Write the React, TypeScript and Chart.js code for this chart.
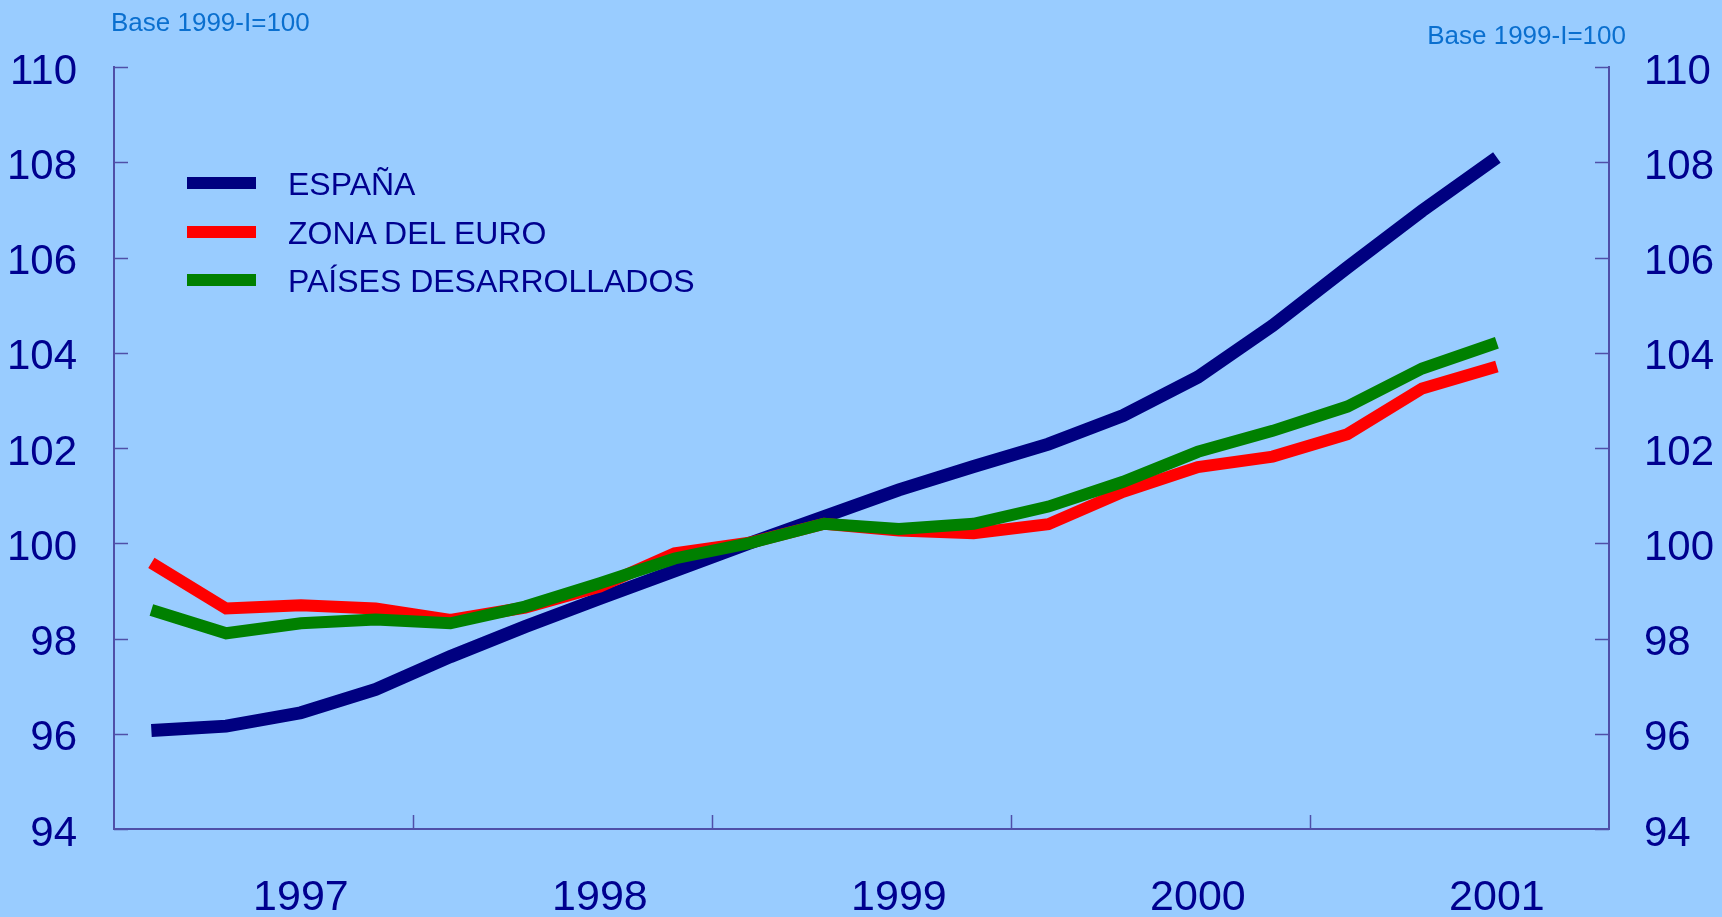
import React, { useEffect, useRef } from 'react';
import { Chart, registerables } from 'chart.js';

Chart.register(...registerables);

// ---- data ----
const years = ['1997', '1998', '1999', '2000', '2001'];
const quarters = ['I', 'II', 'III', 'IV'];
const quarterLabels = years.flatMap((y) => quarters.map((q) => `${y}-${q}`));

const espana = [96.07, 96.16, 96.44, 96.93, 97.62, 98.25, 98.84, 99.42, 100.0, 100.56, 101.12, 101.61, 102.08, 102.68, 103.49, 104.57, 105.79, 106.98, 108.1];
const zonaEuro = [99.59, 98.63, 98.7, 98.63, 98.39, 98.65, 99.09, 99.79, 100.01, 100.41, 100.27, 100.21, 100.4, 101.08, 101.6, 101.82, 102.29, 103.25, 103.71];
const paises = [98.6, 98.11, 98.32, 98.4, 98.32, 98.67, 99.16, 99.68, 100.0, 100.41, 100.3, 100.41, 100.77, 101.29, 101.92, 102.36, 102.87, 103.67, 104.21];

const seriesNames = ['ESPAÑA', 'ZONA DEL EURO', 'PAÍSES DESARROLLADOS'];
const seriesColors = ['#000080', '#FF0000', '#008000'];
const yMin = 94;
const yMax = 110;
const yStep = 2;
const unitLabel = 'Base 1999-I=100';

const BG = '#99CCFF';
const AXIS = '#4F4FA8';
const TEXT = '#00008F';
const FONT = '"Liberation Sans", Arial, Helvetica, sans-serif';

const innerTicks = {
  id: 'innerTicks',
  afterDraw(chart: any) {
    const { ctx, chartArea: a, scales } = chart;
    const x = scales.x;
    const yl = scales.y;
    const yr = scales.y2;
    ctx.save();
    ctx.strokeStyle = AXIS;
    ctx.lineWidth = 1.5;
    ctx.beginPath();
    yl.ticks.forEach((t: any) => {
      const p = Math.round(yl.getPixelForValue(t.value)) + 0.5;
      ctx.moveTo(a.left, p);
      ctx.lineTo(a.left + 14, p);
    });
    yr.ticks.forEach((t: any) => {
      const p = Math.round(yr.getPixelForValue(t.value)) + 0.5;
      ctx.moveTo(a.right - 14, p);
      ctx.lineTo(a.right, p);
    });
    for (let k = 1; k < years.length; k++) {
      const p = Math.round((x.getPixelForValue(4 * k - 1) + x.getPixelForValue(4 * k)) / 2) + 0.5;
      ctx.moveTo(p, a.bottom);
      ctx.lineTo(p, a.bottom - 14);
    }
    ctx.stroke();
    ctx.restore();
  },
};

export default function App() {
  const canvasRef = useRef<HTMLCanvasElement | null>(null);

  useEffect(() => {
    document.body.style.margin = '0';
    const canvas = canvasRef.current;
    if (!canvas) return;
    const data = [espana, zonaEuro, paises];
    const widths = [13, 12, 12];
    const orders = [3, 2, 1];
    const chart = new Chart(canvas, {
      type: 'line',
      data: {
        labels: quarterLabels,
        datasets: data.map((d, i) => ({
          label: seriesNames[i],
          data: d,
          borderColor: seriesColors[i],
          backgroundColor: seriesColors[i],
          borderWidth: widths[i],
          pointRadius: 0,
          tension: 0,
          borderCapStyle: 'butt' as const,
          borderJoinStyle: 'miter' as const,
          fill: false,
          order: orders[i],
          yAxisID: 'y',
        })),
      },
      options: {
        animation: false,
        responsive: false,
        devicePixelRatio: 1,
        layout: { padding: { top: 67, left: 0, right: 0, bottom: 0 } },
        plugins: {
          legend: { display: false },
          tooltip: { enabled: false },
          title: { display: false },
        },
        scales: {
          x: {
            type: 'category',
            offset: true,
            grid: { display: false, drawTicks: false, tickLength: 0 },
            border: { display: true, color: AXIS, width: 2 },
            ticks: {
              autoSkip: false,
              maxRotation: 0,
              minRotation: 0,
              padding: 43,
              color: TEXT,
              font: { family: FONT, size: 43 },
              callback: (_v: any, idx: number) => (idx % 4 === 2 ? years[Math.floor(idx / 4)] : ''),
            },
            afterFit: (s: any) => {
              s.height = 88;
            },
          },
          y: {
            position: 'left',
            min: yMin,
            max: yMax,
            grid: { display: false, drawTicks: false, tickLength: 0 },
            border: { display: true, color: AXIS, width: 2 },
            ticks: {
              stepSize: yStep,
              padding: 37,
              labelOffset: 5,
              color: TEXT,
              font: { family: FONT, size: 42 },
            },
            afterFit: (s: any) => {
              s.width = 114;
            },
          },
          y2: {
            position: 'right',
            min: yMin,
            max: yMax,
            grid: { display: false, drawTicks: false, tickLength: 0 },
            border: { display: true, color: AXIS, width: 2 },
            ticks: {
              stepSize: yStep,
              padding: 35,
              labelOffset: 5,
              color: TEXT,
              font: { family: FONT, size: 42 },
            },
            afterFit: (s: any) => {
              s.width = 113;
            },
          },
        },
      },
      plugins: [innerTicks],
    } as any);
    return () => chart.destroy();
  }, []);

  const legendRows = [183, 232, 280];

  return (
    <div
      style={{
        position: 'absolute',
        left: 0,
        top: 0,
        width: 1722,
        height: 917,
        background: BG,
        overflow: 'hidden',
        fontFamily: FONT,
      }}
    >
      <canvas ref={canvasRef} width={1722} height={917} style={{ position: 'absolute', left: 0, top: 0, width: 1722, height: 917 }} />
      <span
        style={{ position: 'absolute', left: 111, top: 8, fontSize: 26, lineHeight: '28px', color: '#0A6FCF', whiteSpace: 'nowrap' }}
      >
        {unitLabel}
      </span>
      <span
        style={{ position: 'absolute', right: 1722 - 1626, top: 21, fontSize: 26, lineHeight: '28px', color: '#0A6FCF', whiteSpace: 'nowrap' }}
      >
        {unitLabel}
      </span>
      {seriesNames.map((n, i) => (
        <div key={n}>
          <div
            style={{
              position: 'absolute',
              left: 187,
              top: legendRows[i] - 6,
              width: 69,
              height: 12,
              background: seriesColors[i],
            }}
          />
          <span
            style={{
              position: 'absolute',
              left: 288,
              top: legendRows[i] - 18,
              fontSize: 32,
              lineHeight: '38px',
              color: TEXT,
              whiteSpace: 'nowrap',
            }}
          >
            {n}
          </span>
        </div>
      ))}
    </div>
  );
}
